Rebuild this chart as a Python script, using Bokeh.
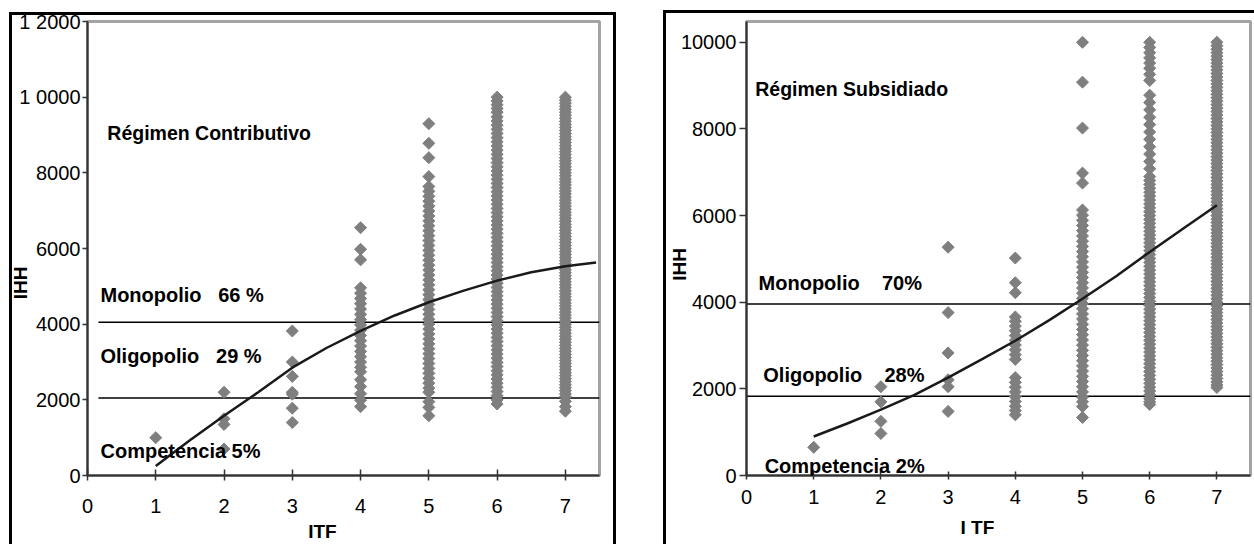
import numpy as np
from bokeh.plotting import figure
from bokeh.models import FixedTicker, Label, Spacer
from bokeh.layouts import row
from bokeh.embed import file_html
from bokeh.resources import INLINE

FONT = "Liberation Sans"
GRAY = "#7f7f7f"
NB = "\u00a0"

# ---------------- data: Régimen Contributivo (left) ----------------
itf_ticks = [0, 1, 2, 3, 4, 5, 6, 7]
c_yticks = [0, 2000, 4000, 6000, 8000, 10000, 12000]
c_ylabels = ["0", "2000", "4000", "6000", "8000", "1 0000", "1 2000"]

c_itf1 = [1000]
c_itf2 = [2200, 1500, 1350, 700]
c_itf3 = [3820, 3000, 2620, 2200, 2150, 1780, 1400]
c_itf4 = [6550, 5980, 5700, 4960, 4820, 4680, 4540, 4400, 4260, 4120, 3980, 3840,
          3700, 3560, 3420, 3280, 3140, 3000, 2860, 2740, 2530, 2350, 2160, 1990, 1820]
c_itf5 = [9300, 8780, 8400, 7900, 7640, 7510, 7380, 7250, 7120, 6990, 6860, 6730,
          6600, 6470, 6340, 6210, 6080, 5950, 5820, 5690, 5560, 5430, 5300, 5170,
          5040, 4910, 4780, 4650, 4520, 4390, 4260, 4130, 4000, 3870, 3740, 3610,
          3480, 3350, 3220, 3090, 2960, 2830, 2700, 2570, 2440, 2310, 2200, 1950,
          1800, 1580]
c_itf6 = [10000, 9900, 9800, 9700, 9600, 9480, 9370, 9260, 9150, 9040, 8930, 8820,
          8710, 8600, 8490, 8380, 8270, 8160, 8050, 7940, 7830, 7720, 7610, 7500,
          7390, 7280, 7170, 7060, 6950, 6840, 6730, 6620, 6510, 6400, 6290, 6180,
          6070, 5960, 5850, 5740, 5630, 5520, 5410, 5300, 5190, 5080, 4970, 4860,
          4750, 4640, 4530, 4420, 4310, 4200, 4090, 3980, 3870, 3760, 3650, 3540,
          3430, 3320, 3210, 3100, 2990, 2880, 2770, 2660, 2550, 2440, 2330, 2220,
          2110, 2000, 1890]
c_itf7 = [10000, 9920, 9840, 9760, 9680, 9600, 9520, 9440, 9360, 9280, 9200, 9120,
          9040, 8960, 8880, 8800, 8720, 8640, 8560, 8480, 8400, 8320, 8240, 8160,
          8080, 8000, 7920, 7840, 7760, 7680, 7600, 7520, 7440, 7360, 7280, 7200,
          7120, 7040, 6960, 6880, 6800, 6720, 6640, 6560, 6480, 6400, 6320, 6240,
          6160, 6080, 6000, 5920, 5840, 5760, 5680, 5600, 5520, 5440, 5360, 5280,
          5200, 5120, 5040, 4960, 4880, 4800, 4720, 4640, 4560, 4480, 4400, 4320,
          4240, 4160, 4080, 4000, 3920, 3840, 3760, 3680, 3600, 3520, 3440, 3360,
          3280, 3200, 3120, 3040, 2960, 2880, 2800, 2720, 2640, 2560, 2480, 2400,
          2320, 2240, 2160, 2080, 1960, 1820, 1700]
c_fit_x = [1, 1.5, 2, 2.5, 3, 3.5, 4, 4.5, 5, 5.5, 6, 6.5, 7, 7.45]
c_fit_y = [250, 930, 1580, 2200, 2850, 3370, 3820, 4230, 4580, 4880, 5150, 5370, 5530, 5630]
c_limits = [4050, 2050]

# ---------------- data: Régimen Subsidiado (right) ----------------
s_yticks = [0, 2000, 4000, 6000, 8000, 10000]
s_ylabels = ["0", "2000", "4000", "6000", "8000", "10000"]

s_itf1 = [650]
s_itf2 = [2050, 1700, 1250, 970]
s_itf3 = [5270, 3760, 2830, 2210, 2050, 1480]
s_itf4 = [5020, 4450, 4220, 3660, 3560, 3450, 3340, 3230, 3120, 3010, 2900, 2790,
          2680, 2260, 2150, 2040, 1930, 1820, 1710, 1600, 1500, 1400]
s_itf5 = [10000, 9080, 8020, 6980, 6750, 6130, 6010, 5890, 5770, 5650, 5530, 5410,
          5290, 5170, 5050, 4930, 4810, 4690, 4570, 4450, 4330, 4210, 4090, 3970,
          3850, 3730, 3610, 3490, 3370, 3250, 3130, 3010, 2890, 2770, 2650, 2530,
          2410, 2290, 2170, 2050, 1930, 1810, 1700, 1590, 1340]
s_itf6 = [10000, 9880, 9760, 9640, 9520, 9400, 9260, 9120, 8780, 8610, 8440, 8270,
          8100, 7930, 7760, 7590, 7420, 7250, 7080, 6900, 6810, 6720, 6630, 6540,
          6450, 6360, 6270, 6180, 6090, 6000, 5910, 5820, 5730, 5640, 5550, 5460,
          5370, 5280, 5190, 5100, 5010, 4920, 4830, 4740, 4650, 4560, 4470, 4380,
          4290, 4200, 4110, 4020, 3930, 3840, 3750, 3660, 3570, 3480, 3390, 3300,
          3210, 3120, 3030, 2940, 2850, 2760, 2670, 2580, 2490, 2400, 2310, 2220,
          2130, 2040, 1950, 1860, 1770, 1700, 1640]
s_itf7 = [10000, 9920, 9840, 9760, 9680, 9600, 9520, 9440, 9360, 9280, 9200, 9120,
          9040, 8960, 8880, 8800, 8720, 8640, 8560, 8480, 8400, 8320, 8240, 8160,
          8080, 8000, 7920, 7840, 7760, 7680, 7600, 7520, 7440, 7360, 7280, 7200,
          7120, 7040, 6960, 6880, 6800, 6720, 6640, 6560, 6480, 6400, 6320, 6240,
          6160, 6080, 6000, 5920, 5840, 5760, 5680, 5600, 5520, 5440, 5360, 5280,
          5200, 5120, 5040, 4960, 4880, 4800, 4720, 4640, 4560, 4480, 4400, 4320,
          4240, 4160, 4080, 4000, 3920, 3840, 3760, 3680, 3600, 3520, 3440, 3360,
          3280, 3200, 3120, 3040, 2960, 2880, 2800, 2720, 2640, 2560, 2480, 2400,
          2320, 2240, 2160, 2090, 2030]
s_fit_x = [1, 1.5, 2, 2.5, 3, 3.5, 4, 4.5, 5, 5.5, 6, 6.5, 7]
s_fit_y = [900, 1200, 1520, 1860, 2260, 2680, 3110, 3580, 4080, 4600, 5160, 5700, 6240]
s_limits = [3960, 1830]


def flatten(cols):
    xs, ys = [], []
    for i, col in enumerate(cols, start=1):
        xs += [i] * len(col)
        ys += col
    return xs, ys


def make_panel(width, mb_left, mb_right, mb_bottom, x_end, y_end, yticks, ylabels,
               tick_in, tick_out, ytick_out, ylab_standoff, xlab_standoff,
               xtitle, xtitle_standoff, ytitle, ytitle_standoff, shadow):
    p = figure(width=width, height=544, x_range=(0, x_end), y_range=(0, y_end),
               output_backend="svg", toolbar_location=None,
               min_border_left=mb_left, min_border_right=mb_right,
               min_border_top=21, min_border_bottom=mb_bottom)
    p.styles = {"box-shadow": shadow}
    p.border_fill_color = None
    p.background_fill_color = "white"
    p.outline_line_color = "#a3a3a3"
    p.outline_line_width = 3
    p.xgrid.visible = False
    p.ygrid.visible = False
    for ax in (p.xaxis[0], p.yaxis[0]):
        ax.axis_line_color = "#333333"
        ax.axis_line_width = 2
        ax.major_tick_line_color = "#333333"
        ax.major_tick_line_width = 1.5
        ax.minor_tick_line_color = None
        ax.major_label_text_font = FONT
        ax.major_label_text_font_size = "20px"
        ax.major_label_text_color = "black"
        ax.axis_label_text_font = FONT
        ax.axis_label_text_font_size = "19px"
        ax.axis_label_text_font_style = "bold"
        ax.axis_label_text_color = "black"
    p.xaxis.ticker = FixedTicker(ticks=itf_ticks)
    p.xaxis.major_tick_in = tick_in
    p.xaxis.major_tick_out = tick_out
    p.xaxis.major_label_standoff = xlab_standoff
    p.xaxis.axis_label = xtitle
    p.xaxis.axis_label_standoff = xtitle_standoff
    p.yaxis.ticker = FixedTicker(ticks=yticks)
    p.yaxis.major_label_overrides = {t: l for t, l in zip(yticks, ylabels)}
    p.yaxis.major_tick_in = 0
    p.yaxis.major_tick_out = ytick_out
    p.yaxis.major_label_standoff = ylab_standoff
    p.yaxis.axis_label = ytitle
    p.yaxis.axis_label_standoff = ytitle_standoff
    return p


def add_label(p, x, y, text, size="20px"):
    p.add_layout(Label(x=x, y=y, text=text, text_font=FONT, text_font_style="bold",
                       text_font_size=size, text_color="black",
                       text_align="left", text_baseline="alphabetic"))


# ---------------- left panel ----------------
p1 = make_panel(617, 87, 18, 67, 7.5, 12000, c_yticks, c_ylabels, 6, 5, 5, 2, 18,
                "ITF" + NB * 8, 5, "IHH" + NB * 13, -15,
                "inset 9px 0 0 white, inset -1px 0 0 white, inset 0 12px 0 white, "
                "inset 12px 0 0 black, inset -4px 0 0 black, inset 0 15px 0 black")
cx, cy = flatten([c_itf1, c_itf2, c_itf3, c_itf4, c_itf5, c_itf6, c_itf7])
p1.segment(x0=[0.16] * len(c_limits), x1=[7.5] * len(c_limits), y0=c_limits, y1=c_limits,
           line_color="black", line_width=1.6)
p1.scatter(cx, cy, marker="square", angle=np.pi / 4, size=8.5, color=GRAY)
p1.line(c_fit_x, c_fit_y, line_color="#1a1a1a", line_width=2.5)
add_label(p1, 0.29, 9050, "Régimen Contributivo", size="19.5px")
add_label(p1, 0.19, 4760, "Monopolio" + NB + NB + " 66 %")
add_label(p1, 0.19, 3160, "Oligopolio" + NB + NB + " 29 %")
add_label(p1, 0.19, 660, "Competencia 5%")

# ---------------- right panel ----------------
p2 = make_panel(593, 85, 4, 68, 7.5, 10480, s_yticks, s_ylabels, 4, 4, 7, 3, 10,
                "I TF" + NB * 8, 10, "IHH" + NB * 6, -12,
                "inset 2px 0 0 white, inset 0 10px 0 white, "
                "inset 5px 0 0 black, inset 0 13px 0 black")
sx, sy = flatten([s_itf1, s_itf2, s_itf3, s_itf4, s_itf5, s_itf6, s_itf7])
p2.segment(x0=[0] * len(s_limits), x1=[7.5] * len(s_limits), y0=s_limits, y1=s_limits,
           line_color="black", line_width=1.6)
p2.scatter(sx, sy, marker="square", angle=np.pi / 4, size=8.5, color=GRAY)
p2.line(s_fit_x, s_fit_y, line_color="#1a1a1a", line_width=2.5)
add_label(p2, 0.13, 8920, "Régimen Subsidiado", size="19.5px")
add_label(p2, 0.18, 4450, "Monopolio" + NB + NB + NB + " 70%")
add_label(p2, 0.25, 2330, "Oligopolio" + NB + NB + NB + " 28%")
add_label(p2, 0.27, 210, "Competencia 2%")

layout = row(p1, Spacer(width=44), p2)
open("out.html", "w").write(file_html(layout, INLINE))
